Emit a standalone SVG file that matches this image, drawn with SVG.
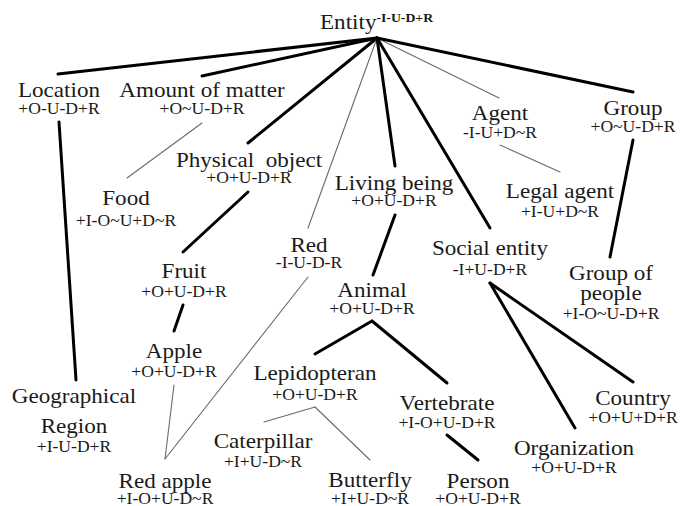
<svg xmlns="http://www.w3.org/2000/svg" width="680" height="506" viewBox="0 0 680 506" font-family="'Liberation Serif', 'DejaVu Serif', serif">
<style>
text{font-family:'Liberation Serif','DejaVu Serif',serif;fill:#1a1a1a;text-anchor:middle}
.m{font-size:21px}
.s{font-size:16px}
.sup{font-size:12.5px;font-weight:bold}
.k{stroke:#000;stroke-width:3;fill:none;stroke-linecap:round}
.t{stroke:#6a6a6a;stroke-width:1.1;fill:none;stroke-linecap:round}
</style>
<rect width="680" height="506" fill="#fff"/>
<g id="connectors">
<line class="k" x1="377" y1="38" x2="58" y2="74"/>
<line class="k" x1="377" y1="38" x2="202" y2="76"/>
<line class="k" x1="377" y1="38" x2="248" y2="143"/>
<line class="t" x1="377" y1="38" x2="308" y2="228"/>
<line class="k" x1="377" y1="38" x2="395" y2="166"/>
<line class="k" x1="377" y1="38" x2="490" y2="228"/>
<line class="t" x1="377" y1="38" x2="499" y2="98"/>
<line class="k" x1="377" y1="38" x2="633" y2="92"/>
<line class="k" x1="59" y1="122" x2="76" y2="380"/>
<line class="t" x1="202" y1="123" x2="127" y2="178"/>
<line class="k" x1="248" y1="192" x2="183" y2="252"/>
<line class="k" x1="183" y1="305" x2="174" y2="331"/>
<line class="t" x1="174" y1="385" x2="165" y2="459"/>
<line class="t" x1="308" y1="277" x2="165" y2="459"/>
<line class="k" x1="395" y1="215" x2="373" y2="275"/>
<line class="k" x1="372" y1="321" x2="315" y2="354"/>
<line class="k" x1="372" y1="321" x2="447" y2="383"/>
<line class="t" x1="315" y1="407" x2="264" y2="422"/>
<line class="t" x1="315" y1="407" x2="370" y2="460"/>
<line class="k" x1="447" y1="435" x2="478" y2="460"/>
<line class="k" x1="490" y1="283" x2="575" y2="428"/>
<line class="k" x1="490" y1="283" x2="633" y2="382"/>
<line class="t" x1="500" y1="145" x2="560" y2="172"/>
<line class="k" x1="633" y1="140" x2="610" y2="257"/>
</g>
<g id="entity" transform="translate(320,0) scale(1.1,1)"><text class="m" x="0" y="29" style="text-anchor:start">Entity<tspan class="sup" dy="-7">-I-U-D+R</tspan></text></g>
<g id="location" transform="translate(59,0) scale(1.1,1)"><text class="m" x="0" y="97">Location</text><text class="s" x="0" y="114">+O-U-D+R</text></g>
<g id="amount" transform="translate(202,0) scale(1.1,1)"><text class="m" x="0" y="97">Amount of matter</text><text class="s" x="0" y="114">+O~U-D+R</text></g>
<g id="physical" transform="translate(249,0) scale(1.1,1)"><text class="m" x="0" y="167" xml:space="preserve">Physical  object</text><text class="s" x="0" y="183">+O+U-D+R</text></g>
<g id="food" transform="translate(126,0) scale(1.1,1)"><text class="m" x="0" y="205">Food</text><text class="s" x="0" y="226">+I-O~U+D~R</text></g>
<g id="fruit" transform="translate(184,0) scale(1.1,1)"><text class="m" x="0" y="278">Fruit</text><text class="s" x="0" y="297">+O+U-D+R</text></g>
<g id="apple" transform="translate(174,0) scale(1.1,1)"><text class="m" x="0" y="358">Apple</text><text class="s" x="0" y="377">+O+U-D+R</text></g>
<g id="red" transform="translate(309,0) scale(1.1,1)"><text class="m" x="0" y="252">Red</text><text class="s" x="0" y="268">-I-U-D-R</text></g>
<g id="living" transform="translate(394,0) scale(1.1,1)"><text class="m" x="0" y="190">Living being</text><text class="s" x="0" y="206">+O+U-D+R</text></g>
<g id="animal" transform="translate(372,0) scale(1.1,1)"><text class="m" x="0" y="297">Animal</text><text class="s" x="0" y="314">+O+U-D+R</text></g>
<g id="lepidopteran" transform="translate(315,0) scale(1.1,1)"><text class="m" x="0" y="380">Lepidopteran</text><text class="s" x="0" y="400">+O+U-D+R</text></g>
<g id="caterpillar" transform="translate(263,0) scale(1.1,1)"><text class="m" x="0" y="448">Caterpillar</text><text class="s" x="0" y="467">+I+U-D~R</text></g>
<g id="butterfly" transform="translate(370,0) scale(1.1,1)"><text class="m" x="0" y="487">Butterfly</text><text class="s" x="0" y="504">+I+U-D~R</text></g>
<g id="redapple" transform="translate(165,0) scale(1.1,1)"><text class="m" x="0" y="488">Red apple</text><text class="s" x="0" y="504">+I-O+U-D~R</text></g>
<g id="geographical" transform="translate(74,0) scale(1.1,1)"><text class="m" x="0" y="403">Geographical</text><text class="m" x="0" y="433">Region</text><text class="s" x="0" y="452">+I-U-D+R</text></g>
<g id="vertebrate" transform="translate(447,0) scale(1.1,1)"><text class="m" x="0" y="410">Vertebrate</text><text class="s" x="0" y="428">+I-O+U-D+R</text></g>
<g id="person" transform="translate(478,0) scale(1.1,1)"><text class="m" x="0" y="488">Person</text><text class="s" x="0" y="504">+O+U-D+R</text></g>
<g id="organization" transform="translate(574,0) scale(1.1,1)"><text class="m" x="0" y="455">Organization</text><text class="s" x="0" y="473">+O+U-D+R</text></g>
<g id="country" transform="translate(633,0) scale(1.1,1)"><text class="m" x="0" y="405">Country</text><text class="s" x="0" y="423">+O+U+D+R</text></g>
<g id="social" transform="translate(490,0) scale(1.1,1)"><text class="m" x="0" y="255">Social entity</text><text class="s" x="0" y="275">-I+U-D+R</text></g>
<g id="groupofpeople" transform="translate(611,0) scale(1.1,1)"><text class="m" x="0" y="280">Group of</text><text class="m" x="0" y="300">people</text><text class="s" x="0" y="319">+I-O~U-D+R</text></g>
<g id="legalagent" transform="translate(560,0) scale(1.1,1)"><text class="m" x="0" y="198">Legal agent</text><text class="s" x="0" y="217">+I-U+D~R</text></g>
<g id="agent" transform="translate(500,0) scale(1.1,1)"><text class="m" x="0" y="120">Agent</text><text class="s" x="0" y="138">-I-U+D~R</text></g>
<g id="group" transform="translate(633,0) scale(1.1,1)"><text class="m" x="0" y="115">Group</text><text class="s" x="0" y="132">+O~U-D+R</text></g>
</svg>
